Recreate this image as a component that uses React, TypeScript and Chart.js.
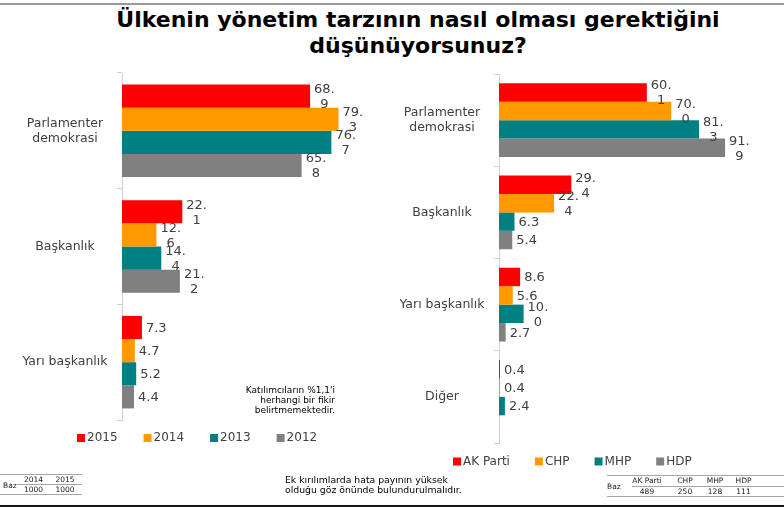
import React, { useEffect, useRef } from 'react';
import { Chart, registerables } from 'chart.js';

Chart.register(...registerables);

// ---------- data ----------
const leftCategories: (string | string[])[] = [['Parlamenter', 'demokrasi'], 'Başkanlık', 'Yarı başkanlık'];
const years = ['2015', '2014', '2013', '2012'];
const y2015 = [68.9, 22.1, 7.3];
const y2014 = [79.3, 12.6, 4.7];
const y2013 = [76.7, 14.4, 5.2];
const y2012 = [65.8, 21.2, 4.4];

const rightCategories: (string | string[])[] = [['Parlamenter', 'demokrasi'], 'Başkanlık', 'Yarı başkanlık', 'Diğer'];
const parties = ['AK Parti', 'CHP', 'MHP', 'HDP'];
const akParti = [60.1, 29.4, 8.6, 0.4];
const chp = [70.0, 22.4, 5.6, 0.4];
const mhp = [81.3, 6.3, 10.0, 2.4];
const hdp: (number | null)[] = [91.9, 5.4, 2.7, null];

const seriesColors = ['#FF0000', '#FF9900', '#008080', '#808080'];

const bazYears = ['2014', '2015'];
const bazYearValues = ['1000', '1000'];
const bazParties = ['AK Parti', 'CHP', 'MHP', 'HDP'];
const bazPartyValues = ['489', '250', '128', '111'];

const FONT = '"DejaVu Sans", Verdana, sans-serif';
const TEXT = '#404040';

// ---------- plugins ----------
const valueLabels = {
  id: 'valueLabels',
  afterDatasetsDraw(chart: any) {
    const ctx = chart.ctx;
    ctx.save();
    ctx.font = '13px "DejaVu Sans"';
    ctx.fillStyle = TEXT;
    ctx.textBaseline = 'middle';
    ctx.textAlign = 'center';
    chart.data.datasets.forEach((ds: any, di: number) => {
      const meta = chart.getDatasetMeta(di);
      meta.data.forEach((bar: any, i: number) => {
        const v = ds.data[i];
        if (v == null) return;
        const s = v.toFixed(1);
        const dot = s.indexOf('.');
        const lines = v >= 10 ? [s.slice(0, dot + 1), s.slice(dot + 1)] : [s];
        const w = Math.max(...lines.map((l: string) => ctx.measureText(l).width));
        const cx = bar.x + 4 + w / 2;
        const lh = 15;
        const y0 = bar.y - ((lines.length - 1) * lh) / 2 + 1;
        lines.forEach((l: string, k: number) => ctx.fillText(l, cx, y0 + k * lh));
      });
    });
    ctx.restore();
  },
};

const boxLegend = {
  id: 'boxLegend',
  afterDraw(chart: any, _args: any, opts: any) {
    const ctx = chart.ctx;
    ctx.save();
    ctx.font = '12px "DejaVu Sans"';
    ctx.textBaseline = 'middle';
    ctx.textAlign = 'left';
    let x = opts.x;
    chart.data.datasets.forEach((ds: any) => {
      ctx.fillStyle = ds.backgroundColor;
      ctx.fillRect(x, opts.y - 4, 8, 8);
      ctx.fillStyle = TEXT;
      ctx.fillText(ds.label, x + 10, opts.y);
      x += 10 + ctx.measureText(ds.label).width + opts.gap;
    });
    ctx.restore();
  },
};

function makeConfig(
  labels: (string | string[])[],
  names: string[],
  series: (number | null)[][],
  axisWidth: number,
  padding: { top: number; bottom: number; right: number },
  legend: { x: number; y: number; gap: number }
): any {
  return {
    type: 'bar',
    data: {
      labels,
      datasets: names.map((n, i) => ({
        label: n,
        data: series[i],
        backgroundColor: seriesColors[i],
        categoryPercentage: 0.8,
        barPercentage: 1,
      })),
    },
    options: {
      indexAxis: 'y',
      animation: false,
      responsive: false,
      maintainAspectRatio: false,
      layout: { padding: { top: padding.top, bottom: padding.bottom, left: 0, right: padding.right } },
      plugins: {
        legend: { display: false },
        tooltip: { enabled: false },
        boxLegend: legend,
      },
      scales: {
        x: { display: false, min: 0, max: 100 },
        y: {
          afterFit(s: any) {
            s.width = axisWidth;
          },
          grid: { drawOnChartArea: false, tickLength: 5, color: '#d0d0d0' },
          border: { color: '#d0d0d0' },
          ticks: {
            crossAlign: 'center',
            padding: 9.5,
            color: TEXT,
            font: { family: 'DejaVu Sans', size: 12.5, lineHeight: 1.2 },
          },
        },
      },
    },
    plugins: [valueLabels, boxLegend],
  };
}

function ChartCanvas({ config, left, width }: { config: any; left: number; width: number }) {
  const ref = useRef<HTMLCanvasElement>(null);
  useEffect(() => {
    if (!ref.current) return;
    const c = new Chart(ref.current, config);
    return () => c.destroy();
  }, []);
  return (
    <canvas
      ref={ref}
      width={width}
      height={507}
      style={{ position: 'absolute', left, top: 0, width, height: 507 }}
    />
  );
}

function Txt({
  x,
  y,
  children,
  size = 7.5,
  align = 'left',
}: {
  x: number;
  y: number;
  children: React.ReactNode;
  size?: number;
  align?: 'left' | 'center' | 'right';
}) {
  const tx = align === 'center' ? '-50%' : align === 'right' ? '-100%' : '0';
  return (
    <div
      style={{
        position: 'absolute',
        left: x,
        top: y,
        transform: `translate(${tx}, -50%)`,
        fontFamily: FONT,
        fontSize: size,
        color: '#202020',
        whiteSpace: 'nowrap',
        lineHeight: 1,
        textAlign: align,
      }}
    >
      {children}
    </div>
  );
}

function HLine({ x1, x2, y }: { x1: number; x2: number; y: number }) {
  return <div style={{ position: 'absolute', left: x1, top: y, width: x2 - x1, height: 1, background: '#a6a6a6' }} />;
}

export default function App() {
  document.body.style.margin = '0';
  const leftCfg = makeConfig(
    leftCategories,
    years,
    [y2015, y2014, y2013, y2012],
    122,
    { top: 73, bottom: 507 - 420, right: 400 - 395 },
    { x: 77, y: 438, gap: 26 }
  );
  const rightCfg = makeConfig(
    rightCategories,
    parties,
    [akParti, chp, mhp, hdp],
    99,
    { top: 74, bottom: 507 - 443, right: 384 - 345 },
    { x: 53, y: 461.5, gap: 25 }
  );
  const bazYearX = [33.5, 65];
  const bazPartyX = [647, 685, 715, 743.5];
  return (
    <div style={{ position: 'relative', width: 784, height: 507, background: '#fff', overflow: 'hidden' }}>
      <div style={{ position: 'absolute', left: 0, top: 3, width: 784, height: 2, background: '#9a9a9a' }} />
      <div
        style={{
          position: 'absolute',
          left: 26,
          top: 7,
          width: 784,
          textAlign: 'center',
          fontFamily: FONT,
          fontWeight: 'bold',
          fontSize: 22,
          lineHeight: '26px',
          color: '#000',
        }}
      >
        Ülkenin yönetim tarzının nasıl olması gerektiğini
        <br />
        düşünüyorsunuz?
      </div>

      <ChartCanvas config={leftCfg} left={0} width={400} />
      <ChartCanvas config={rightCfg} left={400} width={384} />

      <div
        style={{
          position: 'absolute',
          left: 335,
          top: 385,
          transform: 'translateX(-100%)',
          textAlign: 'right',
          fontFamily: FONT,
          fontSize: 9,
          lineHeight: '10px',
          color: '#000',
          whiteSpace: 'nowrap',
        }}
      >
        Katılımcıların %1,1'i
        <br />
        herhangi bir fikir
        <br />
        belirtmemektedir.
      </div>

      <div
        style={{
          position: 'absolute',
          left: 285,
          top: 475,
          fontFamily: FONT,
          fontSize: 9.3,
          lineHeight: '9.5px',
          color: '#000',
          whiteSpace: 'nowrap',
        }}
      >
        Ek kırılımlarda hata payının yüksek
        <br />
        olduğu göz önünde bulundurulmalıdır.
      </div>

      {/* left base table */}
      <HLine x1={0} x2={82} y={474} />
      <HLine x1={17} x2={82} y={484} />
      <HLine x1={0} x2={82} y={494} />
      <Txt x={3} y={486}>Baz</Txt>
      {bazYears.map((t, i) => (
        <Txt key={'h' + i} x={bazYearX[i]} y={480} align="center">
          {t}
        </Txt>
      ))}
      {bazYearValues.map((t, i) => (
        <Txt key={'v' + i} x={bazYearX[i]} y={490} align="center">
          {t}
        </Txt>
      ))}

      {/* right base table */}
      <HLine x1={607} x2={784} y={475} />
      <HLine x1={632} x2={784} y={486} />
      <HLine x1={607} x2={784} y={496} />
      <Txt x={607} y={487}>Baz</Txt>
      {bazParties.map((t, i) => (
        <Txt key={'ph' + i} x={bazPartyX[i]} y={481} align="center">
          {t}
        </Txt>
      ))}
      {bazPartyValues.map((t, i) => (
        <Txt key={'pv' + i} x={bazPartyX[i]} y={491.5} align="center">
          {t}
        </Txt>
      ))}

      <div style={{ position: 'absolute', left: 0, top: 505, width: 784, height: 2, background: '#151515' }} />
    </div>
  );
}
